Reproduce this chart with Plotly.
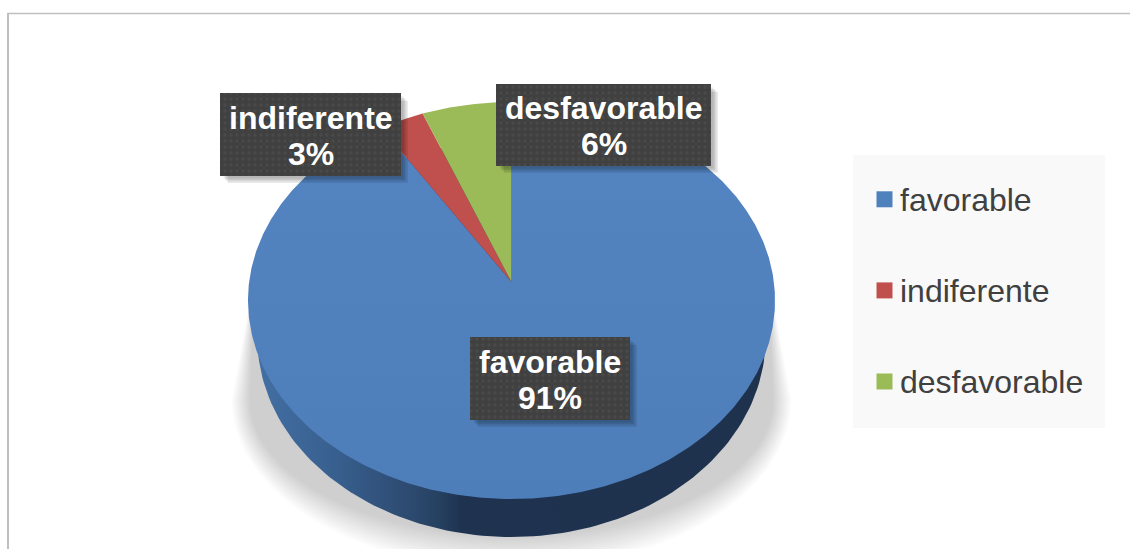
import numpy as np
import plotly.graph_objects as go

# ---- data ----
CATEGORIES = ["favorable", "indiferente", "desfavorable"]
VALUES = [91, 3, 6]

# ---- style / layout ----
COLORS = ["#4f81bd", "#c0504d", "#9bbb59"]
W, H = 1130, 549
APEX = (511.5, 282.0)      # pie centre on the canvas
RX, RY, K = 262.4, 196.8, 0.0932   # perspective of the tilted disc
DEPTH, RIM_SCALE = 38.0, 0.964
# label boxes: x0, x1, y0, y1 per category
BOXES = [(470, 630, 337, 420), (220, 401, 93, 176), (496, 711, 84, 166)]
FONT = "Liberation Sans, Arial, sans-serif"


def disc(theta_deg):
    t = np.radians(theta_deg)
    d = 1 + K * np.cos(t)
    return RX * np.sin(t) / d, RY * np.cos(t) / d


def wedge(a0, a1):
    th = np.linspace(a0, a1, max(int(abs(a1 - a0) * 2), 4))
    dx, dy = disc(th)
    xs = np.concatenate([[APEX[0]], APEX[0] + dx, [APEX[0]]])
    ys = np.concatenate([[APEX[1]], APEX[1] - dy, [APEX[1]]])
    return xs, ys


fig = go.Figure()

# soft shadow under the disc
phi = np.radians(np.linspace(0, 180, 121))
for i in range(16):
    rx = 262 + i * 1.2
    ry = 137 + i * 2.2
    xs = np.concatenate([APEX[0] + rx * np.cos(phi), [APEX[0] - 258 - i * 0.2, APEX[0] + 258 + i * 0.2]])
    ys = np.concatenate([400 + ry * np.sin(phi), [296, 296]])
    fig.add_trace(go.Scatter(x=np.append(xs, xs[0]), y=np.append(ys, ys[0]), mode="lines", fill="toself",
                             fillcolor="rgba(0,0,0,0.0135)", line_width=0,
                             showlegend=False, hoverinfo="skip"))

# side wall of the disc
th = np.linspace(0, 360, 241)
dx, dy = disc(th)
rim_x = APEX[0] + dx * RIM_SCALE
rim_y = APEX[1] - dy + DEPTH
fig.add_trace(go.Scatter(
    x=rim_x, y=rim_y, mode="lines", fill="toself", line_width=0,
    fillgradient=dict(type="horizontal", colorscale=[
        [0.0, "#436fa3"], [0.15, "#38608f"], [0.30, "#2d4a70"],
        [0.36, "#25405f"], [0.40, "#1f3350"], [1.0, "#1e324e"]]),
    showlegend=False, hoverinfo="skip"))

# top face: wedges from the values, clockwise from twelve o'clock
total = sum(VALUES)
start = 0.0
for idx, (name, val, col) in enumerate(zip(CATEGORIES, VALUES, COLORS)):
    end = start + val / total * 360
    xs, ys = wedge(start, end)
    extra = {}
    if idx == 0:
        extra["fillgradient"] = dict(type="vertical", colorscale=[[0, "#4d7eb9"], [1, "#5485c2"]])
    else:
        extra["fillcolor"] = col
    fig.add_trace(go.Scatter(x=xs, y=ys, mode="lines", fill="toself",
                             line=dict(width=0), name=name, legendgroup=name,
                             showlegend=False,
                             hovertemplate=f"{name}: {val}%<extra></extra>", **extra))
    start = end

# label boxes: shadow + dotted plate
annotations = []
for name, val, (x0, x1, y0, y1) in zip(CATEGORIES, VALUES, BOXES):
    for s in (7, 5.5, 4, 2.5):
        fig.add_trace(go.Scatter(
            x=[x0 + 1 + s, x1 + s, x1 + s, x0 + 1 + s, x0 + 1 + s],
            y=[y0 + 1 + s, y0 + 1 + s, y1 + s, y1 + s, y0 + 1 + s],
            mode="lines", fill="toself", fillcolor="rgba(0,0,0,0.08)", line_width=0,
            showlegend=False, hoverinfo="skip"))
    fig.add_trace(go.Scatter(
        x=[x0, x1, x1, x0, x0], y=[y0, y0, y1, y1, y0],
        mode="lines", fill="toself", line_width=0, fillcolor="#404040",
        fillpattern=dict(shape=".", bgcolor="#404040", fgcolor="#525252", size=6, solidity=0.25),
        showlegend=False, hoverinfo="skip"))
    cx, cy = (x0 + x1) / 2, (y0 + y1) / 2
    annotations.append(dict(x=cx, y=cy - 17, text=f"<b>{name}</b>", showarrow=False,
                            font=dict(family=FONT, size=32, color="white")))
    annotations.append(dict(x=cx, y=cy + 19, text=f"<b>{val}%</b>", showarrow=False,
                            font=dict(family=FONT, size=32, color="white")))

# legend entries
for name, col in zip(CATEGORIES, COLORS):
    fig.add_trace(go.Scatter(x=[None], y=[None], mode="markers", name=name, legendgroup=name,
                             marker=dict(symbol="square", size=16, color=col)))

fig.update_layout(
    width=W, height=H, margin=dict(l=0, r=0, t=0, b=0),
    paper_bgcolor="white", plot_bgcolor="white",
    xaxis=dict(range=[0, W], visible=False, fixedrange=True),
    yaxis=dict(range=[H, 0], visible=False, fixedrange=True),
    annotations=annotations,
    legend=dict(x=860 / W, y=1 - 171 / H, xanchor="left", yanchor="top",
                bgcolor="rgba(0,0,0,0)", tracegroupgap=46.5,
                font=dict(family=FONT, size=32, color="#404040")),
    shapes=[
        dict(type="rect", x0=853, x1=1105, y0=155, y1=428, fillcolor="#f9f9f9",
             line_width=0, layer="below"),
        dict(type="line", x0=7, x1=W, y0=13.5, y1=13.5, line=dict(color="#bfbfbf", width=1.5), layer="below"),
        dict(type="line", x0=8, x1=8, y0=13, y1=H, line=dict(color="#bfbfbf", width=2), layer="below"),
    ],
)

fig.write_html(
    "out.html",
    config={"displayModeBar": False},
    post_script=(
        "document.body.style.margin='0';document.body.style.overflow='hidden';"
        "document.querySelectorAll('.legendpoints').forEach(function(g){g.setAttribute('transform','translate(4.5,1)');});"
    ),
)
